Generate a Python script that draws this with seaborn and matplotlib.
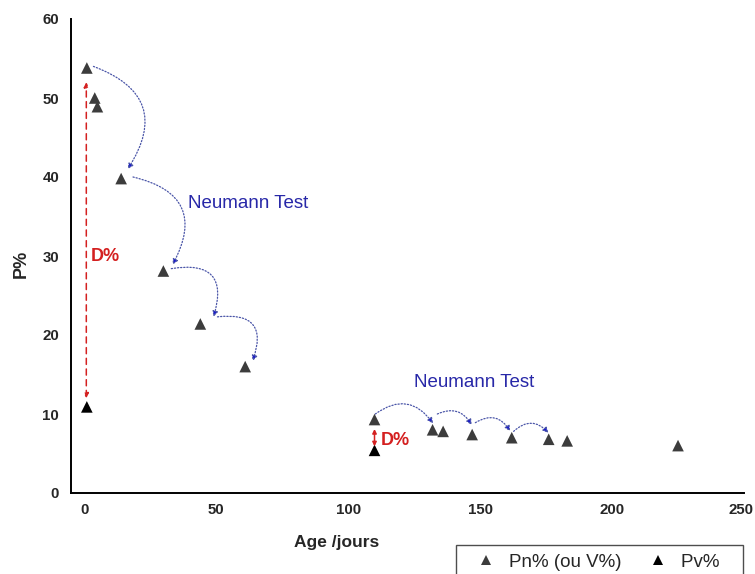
import matplotlib
matplotlib.use("Agg")
import matplotlib.pyplot as plt
import seaborn as sns
import pandas as pd
from matplotlib.ticker import MultipleLocator
from matplotlib.transforms import ScaledTranslation

# ---- data ----
pn_age = [1, 4, 5, 14, 30, 44, 61, 110, 132, 136, 147, 162, 176, 183, 225]
pn_val = [53.8, 50.0, 48.9, 39.8, 28.1, 21.4, 16.0, 9.3, 8.0, 7.8, 7.4, 7.0, 6.8, 6.6, 6.0]
pv_age = [1, 110]
pv_val = [10.9, 5.4]
series_labels = ["Pn% (ou V%)", "Pv%"]
x_ticks = [0, 50, 100, 150, 200, 250]
y_ticks = [0, 10, 20, 30, 40, 50, 60]

# Neumann arcs: (start_age, start_P, end_age, end_P, rad)
arcs = [
    (3.5, 54.0, 16.5, 41.0, -0.62),
    (18.5, 40.0, 33.5, 28.9, -0.65),
    (33.0, 28.4, 49.0, 22.3, -0.8),
    (50.5, 22.3, 63.8, 16.7, -0.8),
    (110.3, 10.0, 132.2, 8.8, -0.5),
    (133.8, 10.0, 146.8, 8.6, -0.45),
    (148.2, 8.9, 161.4, 7.8, -0.5),
    (162.7, 7.8, 175.9, 7.6, -0.5),
]

df = pd.DataFrame({
    "Age": pn_age + pv_age,
    "P": pn_val + pv_val,
    "series": [series_labels[0]] * len(pn_age) + [series_labels[1]] * len(pv_age),
})

sns.set_style("white")
plt.rcParams["font.family"] = ["Liberation Sans", "DejaVu Sans"]

fig = plt.figure(figsize=(7.55, 5.74), dpi=100)
ax = fig.add_axes([71 / 755, 81 / 574, 673 / 755, 474 / 574])

palette = {series_labels[0]: "#3c3c3c", series_labels[1]: "#000000"}
sns.scatterplot(data=df, x="Age", y="P", hue="series", palette=palette,
                marker="^", s=70, linewidth=0, ax=ax, zorder=3)

ax.set_xlim(-5, 250)
ax.set_ylim(0, 60)
ax.set_xticks(x_ticks)
ax.set_yticks(y_ticks)
ax.xaxis.set_minor_locator(MultipleLocator(25))
ax.yaxis.set_minor_locator(MultipleLocator(5))
for s in ["top", "right"]:
    ax.spines[s].set_visible(False)
for s in ["left", "bottom"]:
    ax.spines[s].set_color("black")
    ax.spines[s].set_linewidth(1.4)
ax.tick_params(axis="both", which="major", direction="out", length=4.5, width=1.2,
               color="black", labelsize=10.8, pad=3)
ax.tick_params(axis="both", which="minor", direction="out", length=3, width=1.0,
               color="black")
ax.tick_params(axis="y", which="major", length=5.5)
ax.tick_params(axis="y", which="minor", length=4)
for lab in ax.get_xticklabels() + ax.get_yticklabels():
    lab.set_fontweight("bold")
# nudge the last x tick label slightly left so it stays inside the canvas
xlabs = ax.get_xticklabels()
xlabs[-1].set_transform(xlabs[-1].get_transform() + ScaledTranslation(-3 / 100, 0, fig.dpi_scale_trans))

ax.set_xlabel("Age /jours", fontsize=12.5, fontweight="bold")
ax.xaxis.label.set_va("center")
ax.xaxis.set_label_coords((336.5 - 71) / 673, (493 - 543) / 474)
ax.set_ylabel("P%", fontsize=13, fontweight="bold")
ax.yaxis.label.set_va("center")
ax.yaxis.set_label_coords((21.5 - 71) / 673, (493 - 263.5) / 474)

# D% arrows
red = "#d42020"
ax.annotate("", xy=(0.8, 52.0), xytext=(0.8, 12.0),
            arrowprops=dict(arrowstyle="<|-|>", color=red, lw=1.1, ls=(0, (4, 3)),
                            mutation_scale=7, shrinkA=0, shrinkB=0))
ax.text(2.5, 29.9, "D%", color=red, fontsize=13, fontweight="bold", va="center", ha="left")
ax.annotate("", xy=(110, 8.1), xytext=(110, 5.9),
            arrowprops=dict(arrowstyle="<|-|>", color=red, lw=1.1,
                            mutation_scale=6, shrinkA=0, shrinkB=0))
ax.text(112.5, 6.7, "D%", color=red, fontsize=13, fontweight="bold", va="center", ha="left")

# Neumann arcs
for (x0, y0, x1, y1, rad) in arcs:
    ax.annotate("", xy=(x1, y1), xytext=(x0, y0),
                arrowprops=dict(arrowstyle="-|>", color="#5a64a8", lw=0.9, ls=(0, (1, 1.5)),
                                connectionstyle=f"arc3,rad={rad}",
                                mutation_scale=8, shrinkA=0, shrinkB=0,
                                fc="#1a1acc", ec="#4a55a8"))

blue_txt = "#2828a8"
ax.text(39.5, 36.7, "Neumann Test", color=blue_txt, fontsize=13.5, va="center", ha="left")
ax.text(125, 14.0, "Neumann Test", color=blue_txt, fontsize=13.5, va="center", ha="left")

# legend
handles, labels = ax.get_legend_handles_labels()
if ax.get_legend() is not None:
    ax.get_legend().remove()
labels = [labels[0], labels[1] + "   "]
leg = fig.legend(handles, labels, ncol=2, loc="upper left",
                 bbox_to_anchor=(456 / 755, 1 - 545 / 574), borderaxespad=0,
                 fontsize=13.5, frameon=True, fancybox=False, borderpad=0.45,
                 handlelength=2.3, handletextpad=0.08, columnspacing=0.77,
                 markerscale=0.9)
leg.get_frame().set_edgecolor("#222222")
leg.get_frame().set_linewidth(1.0)

fig.savefig("out.png", dpi=100)
